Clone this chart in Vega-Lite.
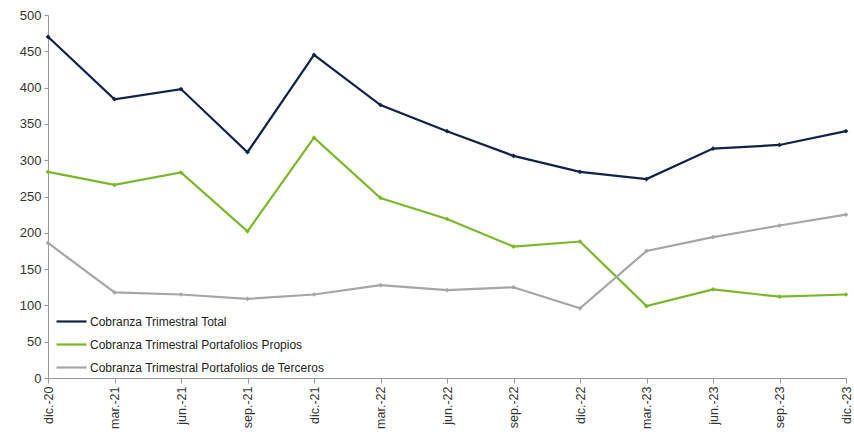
{
  "$schema": "https://vega.github.io/schema/vega-lite/v6.json",
  "width": 798,
  "height": 363,
  "autosize": {"type": "none"},
  "padding": {"left": 48, "top": 15, "right": 8, "bottom": 57},
  "background": "white",
  "config": {
    "font": "Liberation Sans",
    "view": {"stroke": null},
    "axis": {"grid": false, "domainColor": "#999999", "tickColor": "#999999", "labelColor": "#333333", "labelFont": "Liberation Sans"}
  },
  "data": {
    "values": [
      {"fecha": "dic.-20", "serie": "Cobranza Trimestral Total", "valor": 470},
      {"fecha": "mar.-21", "serie": "Cobranza Trimestral Total", "valor": 384},
      {"fecha": "jun.-21", "serie": "Cobranza Trimestral Total", "valor": 398},
      {"fecha": "sep.-21", "serie": "Cobranza Trimestral Total", "valor": 311},
      {"fecha": "dic.-21", "serie": "Cobranza Trimestral Total", "valor": 445},
      {"fecha": "mar.-22", "serie": "Cobranza Trimestral Total", "valor": 376},
      {"fecha": "jun.-22", "serie": "Cobranza Trimestral Total", "valor": 340},
      {"fecha": "sep.-22", "serie": "Cobranza Trimestral Total", "valor": 306},
      {"fecha": "dic.-22", "serie": "Cobranza Trimestral Total", "valor": 284},
      {"fecha": "mar.-23", "serie": "Cobranza Trimestral Total", "valor": 274},
      {"fecha": "jun.-23", "serie": "Cobranza Trimestral Total", "valor": 316},
      {"fecha": "sep.-23", "serie": "Cobranza Trimestral Total", "valor": 321},
      {"fecha": "dic.-23", "serie": "Cobranza Trimestral Total", "valor": 340},
      {"fecha": "dic.-20", "serie": "Cobranza Trimestral Portafolios Propios", "valor": 284},
      {"fecha": "mar.-21", "serie": "Cobranza Trimestral Portafolios Propios", "valor": 266},
      {"fecha": "jun.-21", "serie": "Cobranza Trimestral Portafolios Propios", "valor": 283},
      {"fecha": "sep.-21", "serie": "Cobranza Trimestral Portafolios Propios", "valor": 202},
      {"fecha": "dic.-21", "serie": "Cobranza Trimestral Portafolios Propios", "valor": 331},
      {"fecha": "mar.-22", "serie": "Cobranza Trimestral Portafolios Propios", "valor": 248},
      {"fecha": "jun.-22", "serie": "Cobranza Trimestral Portafolios Propios", "valor": 219},
      {"fecha": "sep.-22", "serie": "Cobranza Trimestral Portafolios Propios", "valor": 181},
      {"fecha": "dic.-22", "serie": "Cobranza Trimestral Portafolios Propios", "valor": 188},
      {"fecha": "mar.-23", "serie": "Cobranza Trimestral Portafolios Propios", "valor": 99},
      {"fecha": "jun.-23", "serie": "Cobranza Trimestral Portafolios Propios", "valor": 122},
      {"fecha": "sep.-23", "serie": "Cobranza Trimestral Portafolios Propios", "valor": 112},
      {"fecha": "dic.-23", "serie": "Cobranza Trimestral Portafolios Propios", "valor": 115},
      {"fecha": "dic.-20", "serie": "Cobranza Trimestral Portafolios de Terceros", "valor": 186},
      {"fecha": "mar.-21", "serie": "Cobranza Trimestral Portafolios de Terceros", "valor": 118},
      {"fecha": "jun.-21", "serie": "Cobranza Trimestral Portafolios de Terceros", "valor": 115},
      {"fecha": "sep.-21", "serie": "Cobranza Trimestral Portafolios de Terceros", "valor": 109},
      {"fecha": "dic.-21", "serie": "Cobranza Trimestral Portafolios de Terceros", "valor": 115},
      {"fecha": "mar.-22", "serie": "Cobranza Trimestral Portafolios de Terceros", "valor": 128},
      {"fecha": "jun.-22", "serie": "Cobranza Trimestral Portafolios de Terceros", "valor": 121},
      {"fecha": "sep.-22", "serie": "Cobranza Trimestral Portafolios de Terceros", "valor": 125},
      {"fecha": "dic.-22", "serie": "Cobranza Trimestral Portafolios de Terceros", "valor": 96},
      {"fecha": "mar.-23", "serie": "Cobranza Trimestral Portafolios de Terceros", "valor": 175},
      {"fecha": "jun.-23", "serie": "Cobranza Trimestral Portafolios de Terceros", "valor": 194},
      {"fecha": "sep.-23", "serie": "Cobranza Trimestral Portafolios de Terceros", "valor": 210},
      {"fecha": "dic.-23", "serie": "Cobranza Trimestral Portafolios de Terceros", "valor": 225}
    ]
  },
  "mark": {"type": "line", "strokeWidth": 2.2, "point": {"shape": "diamond", "size": 22, "filled": true}},
  "encoding": {
    "x": {
      "field": "fecha",
      "type": "ordinal",
      "sort": ["dic.-20","mar.-21","jun.-21","sep.-21","dic.-21","mar.-22","jun.-22","sep.-22","dic.-22","mar.-23","jun.-23","sep.-23","dic.-23"],
      "scale": {"type": "point", "padding": 0},
      "axis": {"title": null, "labelAngle": -90, "labelFontSize": 12.5, "tickSize": 5, "labelPadding": 3}
    },
    "y": {
      "field": "valor",
      "type": "quantitative",
      "scale": {"domain": [0, 500], "nice": false},
      "axis": {"title": null, "values": [0,50,100,150,200,250,300,350,400,450,500], "labelFontSize": 13, "tickSize": 4, "labelPadding": 3}
    },
    "color": {
      "field": "serie",
      "type": "nominal",
      "sort": ["Cobranza Trimestral Total", "Cobranza Trimestral Portafolios Propios", "Cobranza Trimestral Portafolios de Terceros"],
      "scale": {
        "domain": ["Cobranza Trimestral Total", "Cobranza Trimestral Portafolios Propios", "Cobranza Trimestral Portafolios de Terceros"],
        "range": ["#10224A", "#7AB72A", "#A6A6A6"]
      },
      "legend": {
        "title": null,
        "orient": "none",
        "legendX": 7,
        "legendY": 290,
        "symbolType": "stroke",
        "symbolSize": 900,
        "symbolStrokeWidth": 2.2,
        "labelFontSize": 12,
        "labelLimit": 500,
        "labelColor": "#222222",
        "labelOffset": 2,
        "rowPadding": -2
      }
    }
  }
}
